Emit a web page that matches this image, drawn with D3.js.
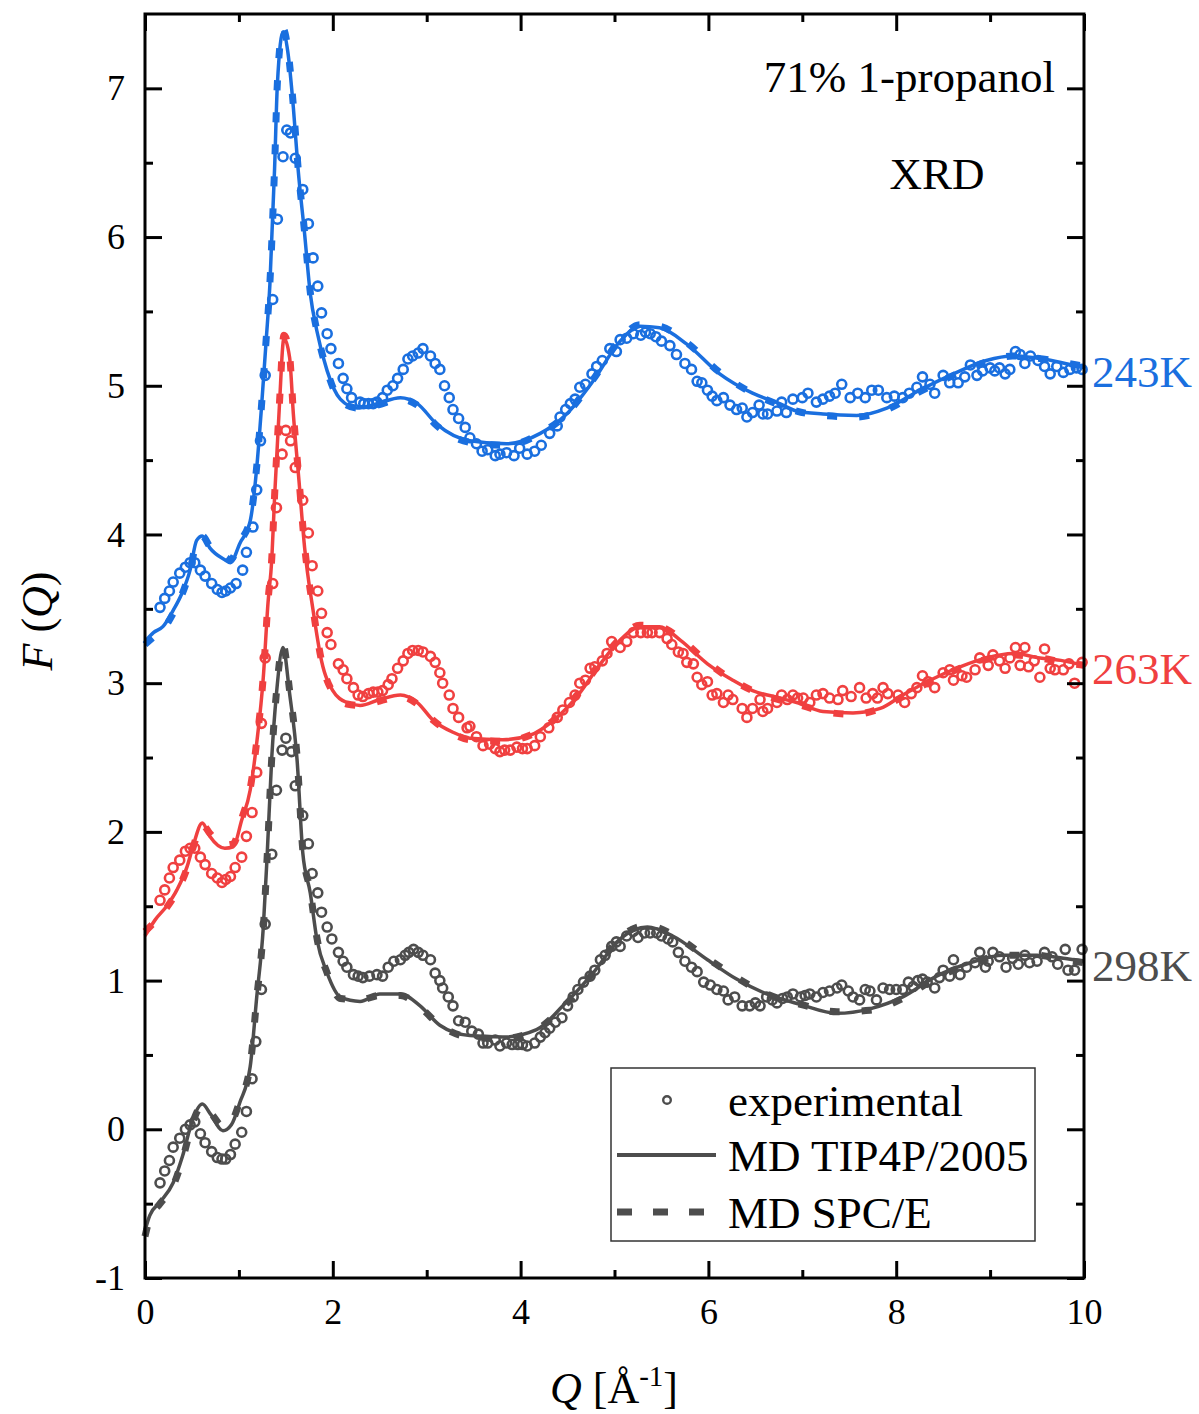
<!DOCTYPE html>
<html><head><meta charset="utf-8">
<script src="https://cdn.jsdelivr.net/npm/d3@7/dist/d3.min.js"></script>
<style>body{margin:0;background:#fff}svg{display:block}text{font-family:"Liberation Serif","Times New Roman",serif}</style>
</head><body>
<script>
// ---------- data ----------
const temps = ["243K", "263K", "298K"];
const colors = {"243K": "#1a6fdf", "263K": "#f04040", "298K": "#4d4d4d"};
const xTicks = [0, 2, 4, 6, 8, 10];
const xMinor = [1, 3, 5, 7, 9];
const yTicks = [-1, 0, 1, 2, 3, 4, 5, 6, 7];
const yMinor = [-0.5, 0.5, 1.5, 2.5, 3.5, 4.5, 5.5, 6.5];

const exp298 = [[0.16,-0.36],[0.21,-0.28],[0.26,-0.21],[0.30,-0.12],[0.37,-0.06],[0.43,0.0],[0.48,0.03],[0.53,0.05],[0.59,-0.03],[0.64,-0.09],[0.71,-0.15],[0.77,-0.19],[0.82,-0.2],[0.86,-0.2],[0.91,-0.17],[0.96,-0.1],[1.03,-0.02],[1.08,0.12],[1.14,0.34],[1.18,0.59],[1.24,0.94],[1.28,1.38],[1.35,1.85],[1.40,2.28],[1.46,2.55],[1.50,2.63],[1.56,2.54],[1.60,2.31],[1.68,2.11],[1.74,1.92],[1.78,1.72],[1.84,1.59],[1.88,1.46],[1.94,1.36],[1.99,1.28],[2.06,1.19],[2.11,1.13],[2.15,1.09],[2.22,1.04],[2.27,1.03],[2.32,1.02],[2.39,1.03],[2.47,1.04],[2.53,1.03],[2.59,1.09],[2.65,1.13],[2.72,1.14],[2.77,1.17],[2.81,1.19],[2.86,1.21],[2.91,1.19],[2.96,1.17],[3.04,1.14],[3.09,1.05],[3.14,1.0],[3.17,0.95],[3.23,0.89],[3.28,0.83],[3.34,0.73],[3.41,0.72],[3.48,0.66],[3.55,0.64],[3.60,0.58],[3.65,0.58],[3.73,0.60],[3.78,0.56],[3.85,0.58],[3.91,0.57],[3.97,0.57],[4.02,0.57],[4.07,0.56],[4.15,0.58],[4.21,0.62],[4.26,0.65],[4.31,0.68],[4.37,0.72],[4.44,0.75],[4.50,0.83],[4.56,0.89],[4.61,0.94],[4.67,0.99],[4.74,1.03],[4.79,1.07],[4.85,1.14],[4.90,1.17],[4.97,1.23],[5.02,1.26],[5.06,1.23],[5.13,1.30],[5.20,1.33],[5.25,1.29],[5.32,1.32],[5.38,1.32],[5.45,1.32],[5.50,1.30],[5.57,1.28],[5.62,1.26],[5.68,1.19],[5.75,1.13],[5.82,1.09],[5.88,1.06],[5.95,0.99],[6.02,0.97],[6.09,0.94],[6.16,0.93],[6.21,0.87],[6.28,0.89],[6.36,0.83],[6.44,0.83],[6.50,0.85],[6.55,0.83],[6.62,0.89],[6.68,0.87],[6.73,0.85],[6.79,0.88],[6.84,0.89],[6.90,0.91],[6.98,0.89],[7.03,0.90],[7.08,0.91],[7.15,0.89],[7.22,0.92],[7.29,0.93],[7.37,0.95],[7.42,0.97],[7.49,0.93],[7.54,0.89],[7.61,0.87],[7.67,0.94],[7.72,0.93],[7.79,0.87],[7.86,0.95],[7.93,0.94],[8.00,0.94],[8.07,0.94],[8.13,0.99],[8.18,0.96],[8.23,1.0],[8.28,1.01],[8.33,0.99],[8.41,0.95],[8.46,1.02],[8.50,1.07],[8.57,1.03],[8.61,1.14],[8.68,1.04],[8.75,1.09],[8.84,1.12],[8.89,1.19],[8.95,1.09],[8.98,1.13],[9.03,1.19],[9.10,1.16],[9.17,1.09],[9.24,1.15],[9.30,1.11],[9.37,1.17],[9.42,1.12],[9.50,1.13],[9.58,1.19],[9.66,1.16],[9.72,1.11],[9.80,1.21],[9.83,1.07],[9.90,1.07],[9.98,1.21]];

const exp263 = [[0.16,1.54],[0.21,1.61],[0.26,1.69],[0.30,1.76],[0.37,1.81],[0.43,1.87],[0.48,1.89],[0.53,1.89],[0.59,1.83],[0.64,1.78],[0.71,1.72],[0.77,1.69],[0.82,1.66],[0.86,1.68],[0.91,1.70],[0.96,1.76],[1.03,1.83],[1.08,1.97],[1.14,2.13],[1.19,2.40],[1.24,2.73],[1.28,3.17],[1.36,3.67],[1.40,4.18],[1.46,4.54],[1.50,4.70],[1.55,4.63],[1.60,4.45],[1.68,4.23],[1.74,4.01],[1.78,3.79],[1.84,3.62],[1.88,3.47],[1.94,3.34],[1.98,3.26],[2.06,3.13],[2.11,3.09],[2.15,3.03],[2.22,2.97],[2.27,2.92],[2.32,2.91],[2.38,2.93],[2.43,2.94],[2.48,2.94],[2.53,2.95],[2.59,2.99],[2.63,3.03],[2.69,3.10],[2.75,3.15],[2.80,3.20],[2.85,3.22],[2.91,3.22],[2.96,3.21],[3.04,3.18],[3.09,3.14],[3.14,3.07],[3.17,3.0],[3.24,2.92],[3.28,2.83],[3.34,2.77],[3.43,2.70],[3.46,2.71],[3.53,2.64],[3.60,2.58],[3.67,2.59],[3.73,2.56],[3.78,2.54],[3.83,2.55],[3.89,2.55],[3.96,2.57],[4.02,2.56],[4.07,2.56],[4.15,2.58],[4.21,2.64],[4.30,2.70],[4.39,2.77],[4.45,2.82],[4.52,2.87],[4.58,2.92],[4.63,3.0],[4.69,3.02],[4.74,3.10],[4.79,3.11],[4.87,3.15],[4.92,3.20],[4.97,3.28],[5.06,3.24],[5.13,3.28],[5.20,3.34],[5.28,3.34],[5.35,3.34],[5.40,3.34],[5.48,3.34],[5.56,3.30],[5.61,3.26],[5.68,3.21],[5.73,3.20],[5.77,3.14],[5.84,3.13],[5.88,3.04],[5.93,2.99],[5.99,3.01],[6.04,2.92],[6.09,2.93],[6.16,2.87],[6.21,2.92],[6.26,2.89],[6.36,2.83],[6.41,2.77],[6.47,2.83],[6.55,2.89],[6.58,2.81],[6.63,2.83],[6.73,2.87],[6.78,2.92],[6.84,2.89],[6.90,2.92],[6.95,2.90],[7.01,2.90],[7.08,2.87],[7.15,2.92],[7.22,2.93],[7.29,2.90],[7.38,2.89],[7.43,2.95],[7.52,2.91],[7.61,2.97],[7.68,2.90],[7.75,2.93],[7.80,2.90],[7.86,2.97],[7.91,2.93],[8.02,2.92],[8.09,2.87],[8.16,2.93],[8.22,2.97],[8.28,3.05],[8.34,3.01],[8.41,2.97],[8.50,3.07],[8.57,3.09],[8.61,3.02],[8.70,3.05],[8.75,3.04],[8.84,3.09],[8.89,3.17],[8.98,3.12],[9.03,3.19],[9.10,3.15],[9.16,3.10],[9.21,3.17],[9.27,3.24],[9.32,3.12],[9.37,3.24],[9.41,3.11],[9.47,3.15],[9.53,3.04],[9.58,3.23],[9.64,3.10],[9.69,3.09],[9.78,3.09],[9.84,3.13],[9.90,3.0],[9.98,3.14]];

const exp243 = [[0.16,3.51],[0.21,3.57],[0.26,3.62],[0.30,3.68],[0.37,3.74],[0.43,3.78],[0.48,3.81],[0.53,3.81],[0.59,3.76],[0.64,3.72],[0.71,3.67],[0.77,3.63],[0.82,3.61],[0.86,3.62],[0.91,3.64],[0.97,3.67],[1.04,3.76],[1.08,3.88],[1.15,4.05],[1.19,4.30],[1.23,4.63],[1.28,5.07],[1.36,5.58],[1.41,6.12],[1.47,6.54],[1.51,6.72],[1.55,6.70],[1.60,6.53],[1.68,6.32],[1.74,6.09],[1.79,5.86],[1.84,5.67],[1.88,5.49],[1.94,5.35],[1.98,5.25],[2.06,5.15],[2.11,5.05],[2.15,4.98],[2.20,4.92],[2.29,4.89],[2.33,4.88],[2.38,4.88],[2.43,4.88],[2.47,4.89],[2.53,4.92],[2.58,4.97],[2.64,5.0],[2.69,5.05],[2.75,5.11],[2.80,5.18],[2.85,5.20],[2.91,5.22],[2.96,5.25],[3.04,5.20],[3.09,5.15],[3.14,5.11],[3.19,5.0],[3.24,4.92],[3.28,4.84],[3.34,4.78],[3.41,4.72],[3.46,4.65],[3.53,4.61],[3.59,4.56],[3.65,4.57],[3.73,4.53],[3.78,4.54],[3.85,4.55],[3.93,4.53],[3.99,4.58],[4.07,4.54],[4.15,4.56],[4.22,4.60],[4.31,4.68],[4.39,4.73],[4.42,4.79],[4.48,4.84],[4.53,4.88],[4.58,4.91],[4.63,4.99],[4.69,5.01],[4.76,5.08],[4.81,5.13],[4.87,5.17],[4.95,5.25],[5.02,5.23],[5.06,5.31],[5.13,5.32],[5.20,5.35],[5.28,5.34],[5.33,5.36],[5.38,5.35],[5.44,5.33],[5.50,5.30],[5.59,5.27],[5.66,5.21],[5.75,5.15],[5.82,5.11],[5.88,5.03],[5.93,5.02],[5.99,4.97],[6.04,4.93],[6.09,4.90],[6.16,4.92],[6.23,4.87],[6.30,4.84],[6.36,4.85],[6.41,4.79],[6.47,4.82],[6.54,4.87],[6.58,4.81],[6.63,4.81],[6.73,4.83],[6.78,4.89],[6.83,4.82],[6.90,4.91],[7.00,4.92],[7.06,4.95],[7.15,4.89],[7.22,4.91],[7.29,4.93],[7.35,4.95],[7.42,5.01],[7.51,4.92],[7.59,4.95],[7.67,4.92],[7.74,4.97],[7.81,4.97],[7.90,4.92],[7.98,4.93],[8.07,4.92],[8.14,4.95],[8.22,4.99],[8.28,5.06],[8.36,5.01],[8.41,4.95],[8.50,5.07],[8.57,5.02],[8.66,5.02],[8.73,5.06],[8.79,5.14],[8.86,5.07],[8.92,5.10],[9.00,5.12],[9.05,5.10],[9.10,5.12],[9.16,5.08],[9.21,5.11],[9.27,5.23],[9.32,5.21],[9.37,5.15],[9.43,5.20],[9.51,5.17],[9.58,5.13],[9.64,5.08],[9.71,5.13],[9.78,5.09],[9.85,5.11],[9.92,5.12],[9.98,5.11]];

const tip298 = [[0,-0.68],[0.05,-0.58],[0.16,-0.49],[0.30,-0.36],[0.40,-0.18],[0.51,0.07],[0.61,0.17],[0.70,0.10],[0.83,-0.01],[0.92,0.03],[1.01,0.18],[1.12,0.42],[1.19,0.89],[1.26,1.36],[1.30,1.83],[1.35,2.50],[1.40,2.93],[1.47,3.24],[1.54,2.93],[1.62,2.48],[1.68,1.86],[1.76,1.59],[1.83,1.28],[1.94,1.05],[2.08,0.89],[2.29,0.86],[2.50,0.91],[2.72,0.91],[2.93,0.83],[3.14,0.70],[3.46,0.63],[3.81,0.62],[4.17,0.67],[4.45,0.83],[4.77,1.05],[5.06,1.28],[5.35,1.36],[5.62,1.30],[5.99,1.14],[6.30,1.01],[6.62,0.91],[6.98,0.84],[7.37,0.78],[7.72,0.81],[8.07,0.89],[8.43,1.03],[8.79,1.12],[9.14,1.17],[9.50,1.17],[9.78,1.15],[10,1.13]];
const spc298 = [[0,-0.72],[0.05,-0.60],[0.16,-0.50],[0.30,-0.38],[0.40,-0.20],[0.51,0.05],[0.61,0.16],[0.70,0.11],[0.83,0.02],[0.92,0.05],[1.01,0.19],[1.12,0.43],[1.19,0.88],[1.26,1.35],[1.30,1.82],[1.35,2.50],[1.40,2.94],[1.47,3.26],[1.54,2.95],[1.62,2.50],[1.68,1.88],[1.76,1.60],[1.83,1.29],[1.94,1.05],[2.08,0.88],[2.29,0.87],[2.50,0.90],[2.72,0.90],[2.93,0.82],[3.14,0.70],[3.46,0.62],[3.81,0.61],[4.17,0.67],[4.45,0.82],[4.77,1.05],[5.06,1.29],[5.35,1.37],[5.62,1.31],[5.99,1.15],[6.30,1.02],[6.62,0.91],[6.98,0.84],[7.37,0.79],[7.72,0.80],[8.07,0.88],[8.43,1.02],[8.79,1.11],[9.14,1.17],[9.50,1.17],[9.78,1.14],[10,1.12]];

const tip263 = [[0,1.30],[0.11,1.41],[0.23,1.50],[0.34,1.61],[0.45,1.77],[0.51,1.90],[0.61,2.06],[0.69,1.97],[0.85,1.89],[0.94,1.90],[1.03,2.08],[1.12,2.28],[1.19,2.60],[1.26,3.04],[1.31,3.54],[1.35,3.83],[1.38,4.25],[1.43,4.85],[1.48,5.32],[1.54,5.19],[1.58,4.81],[1.64,4.36],[1.70,3.91],[1.79,3.49],[1.88,3.15],[2.00,2.95],[2.15,2.87],[2.29,2.85],[2.50,2.89],[2.72,2.92],[2.90,2.87],[3.07,2.75],[3.28,2.67],[3.46,2.63],[3.81,2.62],[4.10,2.65],[4.35,2.75],[4.60,2.91],[4.85,3.13],[5.06,3.29],[5.27,3.38],[5.48,3.38],[5.70,3.29],[5.99,3.13],[6.26,3.02],[6.47,2.95],[6.69,2.91],[6.94,2.87],[7.22,2.81],[7.54,2.80],[7.83,2.83],[8.07,2.92],[8.36,3.02],[8.68,3.11],[8.96,3.17],[9.24,3.20],[9.53,3.17],[9.78,3.15],[10,3.12]];
const spc263 = [[0,1.33],[0.11,1.40],[0.23,1.49],[0.34,1.60],[0.45,1.76],[0.51,1.89],[0.61,2.05],[0.69,1.99],[0.85,1.91],[0.94,1.92],[1.03,2.09],[1.12,2.29],[1.19,2.61],[1.26,3.05],[1.31,3.55],[1.35,3.84],[1.38,4.26],[1.43,4.86],[1.48,5.34],[1.54,5.20],[1.58,4.82],[1.64,4.37],[1.70,3.92],[1.79,3.50],[1.88,3.15],[2.00,2.94],[2.15,2.86],[2.29,2.85],[2.50,2.88],[2.72,2.91],[2.90,2.86],[3.07,2.75],[3.28,2.66],[3.46,2.62],[3.81,2.61],[4.10,2.65],[4.35,2.75],[4.60,2.92],[4.85,3.14],[5.06,3.30],[5.27,3.39],[5.48,3.38],[5.70,3.30],[5.99,3.14],[6.26,3.02],[6.47,2.95],[6.69,2.90],[6.94,2.86],[7.22,2.81],[7.54,2.79],[7.83,2.83],[8.07,2.91],[8.36,3.01],[8.68,3.10],[8.96,3.16],[9.24,3.19],[9.53,3.17],[9.78,3.14],[10,3.12]];

const tip243 = [[0,3.28],[0.09,3.34],[0.19,3.38],[0.30,3.49],[0.39,3.60],[0.48,3.76],[0.55,3.96],[0.61,3.99],[0.69,3.91],[0.85,3.83],[0.91,3.81],[1.01,3.94],[1.12,4.09],[1.19,4.45],[1.24,4.85],[1.29,5.30],[1.33,5.68],[1.38,6.46],[1.41,7.03],[1.47,7.38],[1.52,7.25],[1.58,6.87],[1.63,6.46],[1.70,6.02],[1.76,5.62],[1.83,5.37],[1.94,5.10],[2.08,4.91],[2.26,4.85],[2.47,4.88],[2.72,4.92],[2.90,4.88],[3.11,4.74],[3.46,4.63],[3.85,4.61],[4.21,4.68],[4.49,4.81],[4.77,5.03],[5.06,5.30],[5.27,5.40],[5.48,5.39],[5.77,5.28],[6.12,5.08],[6.47,4.95],[6.76,4.88],[6.94,4.83],[7.22,4.81],[7.58,4.80],[7.90,4.85],[8.25,4.97],[8.61,5.08],[8.96,5.17],[9.24,5.20],[9.56,5.18],[10,5.12]];
const spc243 = [[0,3.26],[0.09,3.31],[0.19,3.36],[0.30,3.47],[0.39,3.59],[0.48,3.76],[0.55,3.95],[0.61,3.99],[0.69,3.92],[0.85,3.85],[0.91,3.83],[1.01,3.95],[1.12,4.10],[1.19,4.46],[1.24,4.86],[1.29,5.31],[1.33,5.69],[1.38,6.47],[1.41,7.04],[1.47,7.40],[1.52,7.27],[1.58,6.88],[1.63,6.47],[1.70,6.03],[1.76,5.63],[1.83,5.37],[1.94,5.10],[2.08,4.90],[2.26,4.85],[2.47,4.87],[2.72,4.91],[2.90,4.87],[3.11,4.73],[3.46,4.62],[3.85,4.60],[4.21,4.68],[4.49,4.81],[4.77,5.04],[5.06,5.31],[5.27,5.41],[5.48,5.40],[5.77,5.29],[6.12,5.09],[6.47,4.95],[6.76,4.87],[6.94,4.83],[7.22,4.80],[7.58,4.79],[7.90,4.84],[8.25,4.96],[8.61,5.07],[8.96,5.16],[9.24,5.20],[9.56,5.18],[10,5.13]];

const series = [
  {t: "298K", exp: exp298, tip: tip298, spc: spc298, labelY: 1.1},
  {t: "263K", exp: exp263, tip: tip263, spc: spc263, labelY: 3.1},
  {t: "243K", exp: exp243, tip: tip243, spc: spc243, labelY: 5.1}
];
const legendItems = ["experimental", "MD TIP4P/2005", "MD SPC/E"];

// ---------- chart ----------
const W = 1199, H = 1414;
const L = 145, R = 1084, T = 14, B = 1278;
const svg = d3.select("body").append("svg").attr("width", W).attr("height", H);
const x = d3.scaleLinear().domain([0, 10]).range([L, R]);
const y = d3.scaleLinear().domain([-1, 7.5]).range([B, T]);

const plot = svg.append("g");
const line = d3.line().x(d => x(d[0])).y(d => y(d[1])).curve(d3.curveMonotoneX);

series.forEach(s => {
  const c = colors[s.t];
  plot.append("g").selectAll("circle").data(s.exp).join("circle")
    .attr("cx", d => x(d[0])).attr("cy", d => y(d[1])).attr("r", 4.5)
    .attr("fill", "none").attr("stroke", c).attr("stroke-width", 2.6);
  plot.append("path").datum(s.spc).attr("d", line).attr("fill", "none")
    .attr("stroke", c).attr("stroke-width", 7).attr("stroke-dasharray", "10,22");
  plot.append("path").datum(s.tip).attr("d", line).attr("fill", "none")
    .attr("stroke", c).attr("stroke-width", 3.5);
  svg.append("text").attr("x", R + 8).attr("y", y(s.labelY)).attr("dy", "0.35em")
    .attr("fill", c).attr("font-size", 45).text(s.t);
});

// axes
const intFmt = d => String(d);
function styleAxis(g) {
  g.select(".domain").remove();
  g.selectAll(".tick line").attr("stroke", "#000").attr("stroke-width", 3);
  g.selectAll(".tick text").attr("font-family", "Liberation Serif, serif").attr("font-size", 36).attr("fill", "#000");
}
svg.append("g").attr("transform", `translate(0,${B})`)
  .call(d3.axisBottom(x).tickValues(xTicks).tickSize(-17).tickPadding(20).tickFormat(intFmt)).call(styleAxis);
svg.append("g").attr("transform", `translate(0,${B})`)
  .call(d3.axisBottom(x).tickValues(xMinor).tickSize(-8).tickFormat("")).call(styleAxis);
svg.append("g").attr("transform", `translate(0,${T})`)
  .call(d3.axisTop(x).tickValues(xTicks).tickSize(-17).tickFormat("")).call(styleAxis);
svg.append("g").attr("transform", `translate(0,${T})`)
  .call(d3.axisTop(x).tickValues(xMinor).tickSize(-8).tickFormat("")).call(styleAxis);
svg.append("g").attr("transform", `translate(${L},0)`)
  .call(d3.axisLeft(y).tickValues(yTicks).tickSize(-17).tickPadding(20).tickFormat(intFmt)).call(styleAxis);
svg.append("g").attr("transform", `translate(${L},0)`)
  .call(d3.axisLeft(y).tickValues(yMinor).tickSize(-8).tickFormat("")).call(styleAxis);
svg.append("g").attr("transform", `translate(${R},0)`)
  .call(d3.axisRight(y).tickValues(yTicks).tickSize(-17).tickFormat("")).call(styleAxis);
svg.append("g").attr("transform", `translate(${R},0)`)
  .call(d3.axisRight(y).tickValues(yMinor).tickSize(-8).tickFormat("")).call(styleAxis);
svg.append("rect").attr("x", L).attr("y", T).attr("width", R - L).attr("height", B - T)
  .attr("fill", "none").attr("stroke", "#000").attr("stroke-width", 3);

// axis titles
const xt = svg.append("text").attr("x", 614).attr("y", 1403).attr("text-anchor", "middle").attr("font-size", 44);
xt.append("tspan").attr("font-style", "italic").text("Q");
xt.append("tspan").text(" [Å");
xt.append("tspan").attr("font-size", 29).attr("dy", -17).text("-1");
xt.append("tspan").attr("dy", 17).text("]");
const yt = svg.append("text").attr("transform", `translate(52,621) rotate(-90)`).attr("text-anchor", "middle").attr("font-size", 44);
yt.append("tspan").attr("font-style", "italic").text("F");
yt.append("tspan").text(" (");
yt.append("tspan").attr("font-style", "italic").text("Q");
yt.append("tspan").text(")");

// annotations
svg.append("text").attr("x", 1055).attr("y", 92).attr("text-anchor", "end").attr("font-size", 45).text("71%  1-propanol");
svg.append("text").attr("x", 937).attr("y", 189).attr("text-anchor", "middle").attr("font-size", 45).text("XRD");

// legend
const lg = svg.append("g");
lg.append("rect").attr("x", 611).attr("y", 1068).attr("width", 424).attr("height", 173)
  .attr("fill", "#fff").attr("stroke", "#333").attr("stroke-width", 1.5);
const legY = [1100, 1155, 1212];
const gray = colors["298K"];
lg.append("circle").attr("cx", 667).attr("cy", legY[0]).attr("r", 3.8).attr("fill", "none").attr("stroke", gray).attr("stroke-width", 2.4);
lg.append("line").attr("x1", 617).attr("x2", 716).attr("y1", legY[1]).attr("y2", legY[1]).attr("stroke", gray).attr("stroke-width", 4);
lg.append("line").attr("x1", 617).attr("x2", 716).attr("y1", legY[2]).attr("y2", legY[2]).attr("stroke", gray).attr("stroke-width", 7).attr("stroke-dasharray", "15,21");
legendItems.forEach((t, i) => {
  lg.append("text").attr("x", 728).attr("y", legY[i]).attr("dy", "0.35em").attr("font-size", 45).text(t);
});
</script>
</body></html>
